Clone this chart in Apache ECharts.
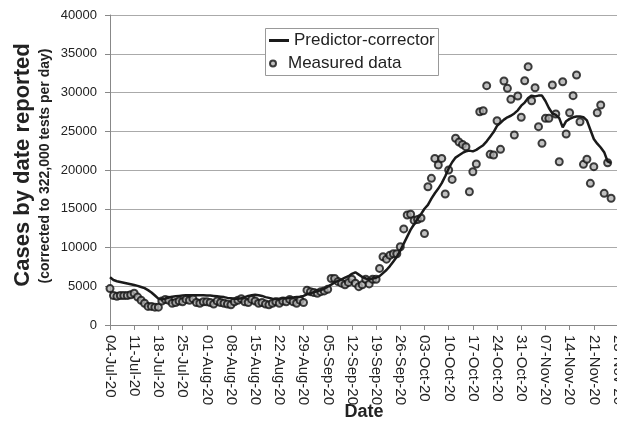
<!DOCTYPE html>
<html>
<head>
<meta charset="utf-8">
<script src="https://cdn.jsdelivr.net/npm/echarts@6.0.0/dist/echarts.min.js"></script>
<style>
  html, body { margin: 0; padding: 0; background: #fff; overflow: hidden; }
  #chart { width: 630px; height: 438px; }
</style>
</head>
<body>
<div id="chart"></div>
<script>
// x axis: one category per day, 04-Jul-20 .. 28-Nov-20
var dayCount = 148;
var months = ['Jan','Feb','Mar','Apr','May','Jun','Jul','Aug','Sep','Oct','Nov','Dec'];
var dates = [];
for (var i = 0; i < dayCount; i++) {
  var d = new Date(2020, 6, 4 + i);
  var dd = d.getDate() < 10 ? '0' + d.getDate() : '' + d.getDate();
  dates.push(dd + '-' + months[d.getMonth()] + '-20');
}

// measured cases (one per day from 04-Jul)
var measured = [
  4700, 3800, 3700, 3800, 3800, 3800, 3900, 4100, 3600, 3200,
  2800, 2400, 2400, 2300, 2300, 3100, 3300, 3200, 2800, 2900,
  3100, 3000, 3300, 3200, 3400, 2900, 2800, 3000, 3000, 2900,
  2700, 3100, 2900, 2800, 2700, 2600, 3000, 3200, 3400, 3000,
  2900, 3300, 3100, 2800, 2900, 2700, 2600, 2800, 3000, 2800,
  3100, 3000, 3300, 3000, 2800, 3200, 2900, 4500, 4300, 4200,
  4100, 4300, 4400, 4600, 6000, 6000, 5600, 5400, 5200, 5500,
  5900, 5400, 4950, 5200, 5900, 5300, 5900, 5900, 7300, 8800,
  8500, 9000, 9200, 9200, 10100, 12400, 14200, 14300, 13500, 13600,
  13800, 11800, 17840, 18920, 21500, 20640, 21500, 16900, 20000, 18790,
  24090, 23600, 23300, 23000, 17200, 19780, 20770, 27520, 27650, 30880,
  22020, 21930, 26360, 22670, 31480, 30540, 29120, 24520, 29550, 26800,
  31520, 33330, 28940, 30620, 25590, 23440, 26670, 26670, 30970, 27220,
  21070, 31390, 24640, 27390, 29590, 32260, 26230, 20730, 21380, 18280,
  20430, 27390, 28390, 16990, 20940, 16350
];

// predictor-corrector model
var predicted = [
  6150, 5800, 5650, 5550, 5450, 5350, 5250, 5150, 5050, 4900,
  4750, 4500, 4200, 3800, 3400, 3300, 3400, 3550, 3650, 3700,
  3750, 3800, 3850, 3850, 3850, 3850, 3850, 3850, 3800, 3800,
  3750, 3700, 3650, 3600, 3500, 3450, 3400, 3400, 3450, 3600,
  3750, 3850, 3900, 3850, 3750, 3600, 3500, 3400, 3350, 3400,
  3450, 3500, 3500, 3550, 3600, 3650, 3750, 3950, 4100, 4250,
  4350, 4500, 4700, 4950, 5200, 5500, 5700, 5900, 6100, 6300,
  6600, 6800, 6500, 6200, 6000, 5900, 6000, 6100, 6300, 6700,
  7100, 7600, 8200, 8800, 9600, 10500, 11400, 12300, 13000, 13700,
  14300, 15000, 15500, 16300, 17000, 17600, 18300, 19200, 20200, 21000,
  21600, 21900, 22200, 22400, 22500, 22400, 22600, 22900, 23200, 23700,
  24300, 24900, 25700, 26100, 26500, 26800, 27000, 27300, 27700, 28300,
  28700, 29300, 29600, 29500, 29600, 29600, 28900, 28000, 27300, 27100,
  26700, 25500, 26300, 26600, 26800, 26900, 26900, 26800, 26400, 25200,
  24000, 23400, 22900, 22300, 21100, 20900
];

var font = 'Liberation Sans, Arial, sans-serif';

var chart = echarts.init(document.getElementById('chart'), null, { renderer: 'canvas' });
var option = {
  animation: false,
  backgroundColor: '#fff',
  textStyle: { fontFamily: font },
  grid: { left: 110, top: 15, width: 508, height: 310, containLabel: false, outerBoundsMode: 'none' },
  legend: [
    {
      data: [{ name: 'Predictor-corrector', icon: 'rect' }],
      left: 269, top: 32,
      padding: 0,
      itemWidth: 20, itemHeight: 3,
      itemStyle: { color: '#1a1a1a', borderWidth: 0 },
      textStyle: { fontFamily: font, fontSize: 17, color: '#222' },
      z: 20
    },
    {
      data: ['Measured data'],
      left: 269, top: 55,
      padding: 0,
      icon: 'circle',
      itemWidth: 20, itemHeight: 6,
      textStyle: { fontFamily: font, fontSize: 17, color: '#222' },
      z: 20
    }
  ],
  xAxis: {
    type: 'category',
    data: dates,
    boundaryGap: false,
    axisLine: { show: true, lineStyle: { color: '#888', width: 1 } },
    axisTick: { show: true, interval: 6, length: 5, lineStyle: { color: '#888' } },
    axisLabel: { interval: 6, rotate: -90, margin: 10, fontSize: 15, color: '#222', fontFamily: font },
    splitLine: { show: false }
  },
  yAxis: {
    type: 'value',
    min: 0, max: 40000, interval: 5000,
    axisLine: { show: true, lineStyle: { color: '#888', width: 1 } },
    axisTick: { show: true, length: 5, lineStyle: { color: '#888' } },
    axisLabel: {
      margin: 13, fontSize: 13, color: '#222', fontFamily: font,
      formatter: function (v) { return String(v); }
    },
    splitLine: { show: true, lineStyle: { color: '#aaa', width: 1 } }
  },
  graphic: [
    {
      type: 'rect', z: 10,
      shape: { x: 265.5, y: 28.5, width: 173, height: 47 },
      style: { fill: '#fff', stroke: '#999', lineWidth: 1 }
    },
    {
      type: 'text', z: 10,
      x: 23, y: 165, rotation: Math.PI / 2,
      style: {
        text: 'Cases by date reported',
        font: 'bold 22px ' + font, fill: '#222',
        textAlign: 'center', textVerticalAlign: 'middle'
      }
    },
    {
      type: 'text', z: 10,
      x: 45, y: 166, rotation: Math.PI / 2,
      style: {
        text: '(corrected to 322,000 tests per day)',
        font: 'bold 14px ' + font, fill: '#222',
        textAlign: 'center', textVerticalAlign: 'middle'
      }
    },
    {
      type: 'text', z: 10,
      x: 364, y: 412,
      style: {
        text: 'Date',
        font: 'bold 18px ' + font, fill: '#222',
        textAlign: 'center', textVerticalAlign: 'middle'
      }
    }
  ],
  series: [
    {
      name: 'Predictor-corrector',
      type: 'line',
      data: predicted,
      symbol: 'none',
      lineStyle: { color: '#1a1a1a', width: 2.5 },
      itemStyle: { color: '#1a1a1a' },
      z: 3
    },
    {
      name: 'Measured data',
      type: 'scatter',
      data: measured,
      symbol: 'circle',
      symbolSize: 7,
      itemStyle: { color: '#b0b0b0', borderColor: '#111', borderWidth: 2 },
      z: 2
    }
  ]
};
chart.setOption(option);
</script>
</body>
</html>
